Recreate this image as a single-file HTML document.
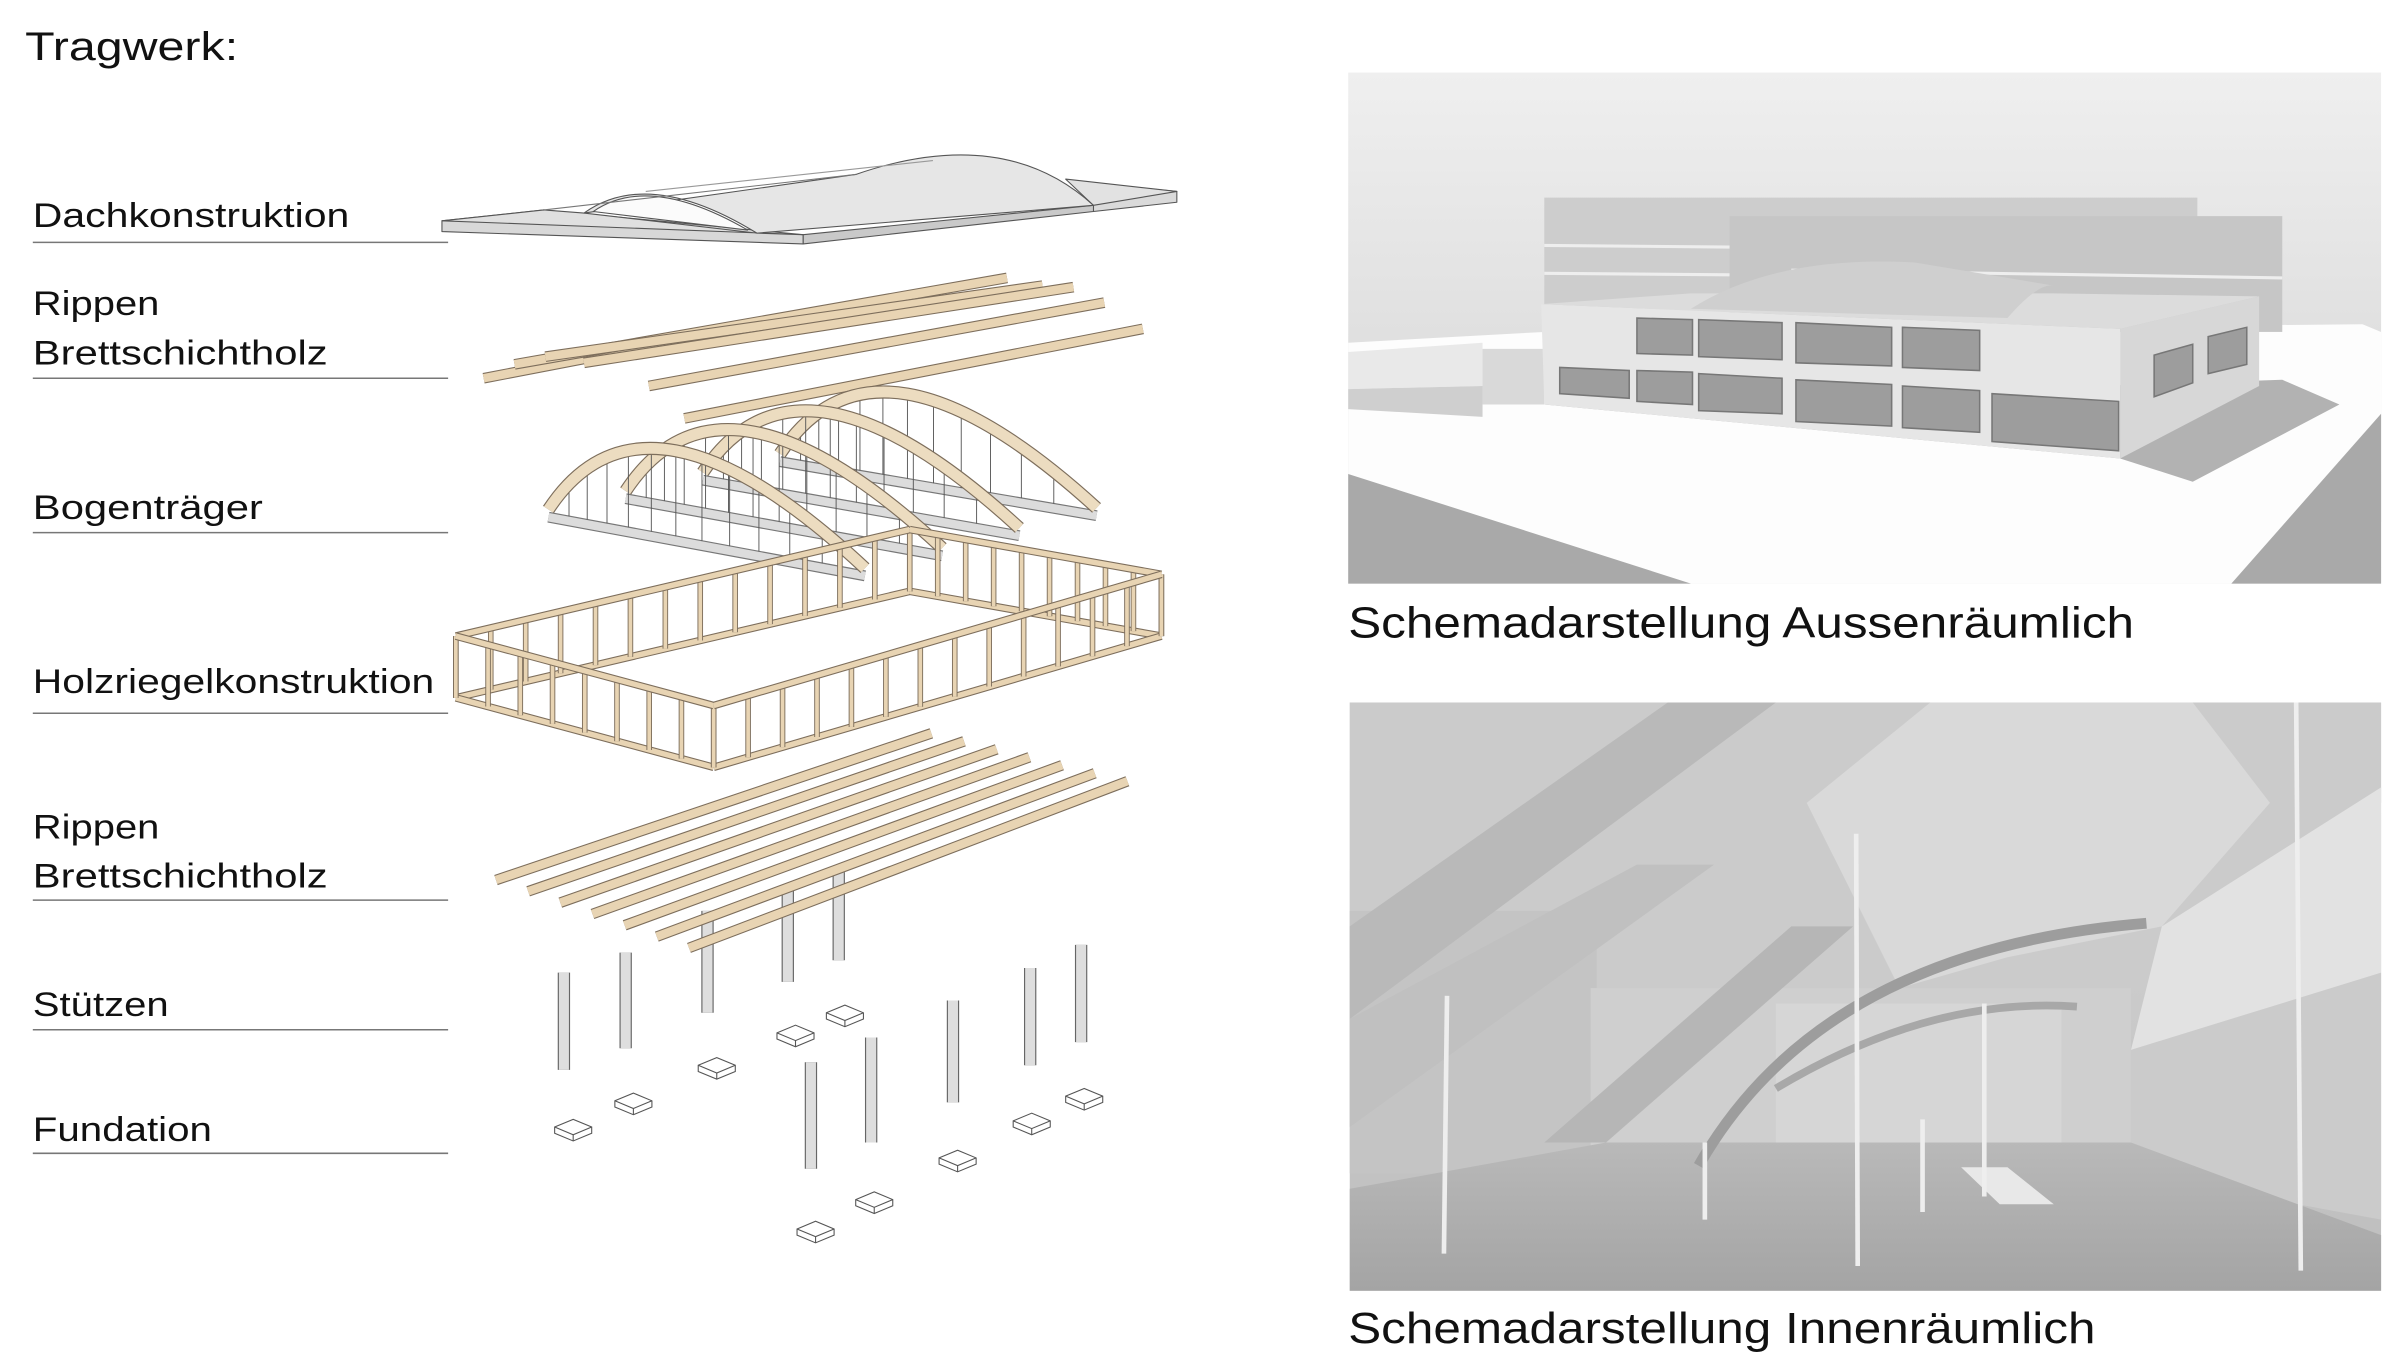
<!DOCTYPE html>
<html><head><meta charset="utf-8"><style>
html,body{margin:0;padding:0;background:#fff;}
svg{display:block}
text{font-family:"Liberation Sans",sans-serif;fill:#111}
</style></head><body>
<svg id="s" width="2400" height="1354" viewBox="0 0 1554 877" xmlns="http://www.w3.org/2000/svg">
<defs>
<linearGradient id="sky" x1="0" y1="0" x2="0" y2="1">
<stop offset="0" stop-color="#efefef"/><stop offset="1" stop-color="#d2d2d2"/></linearGradient>
<linearGradient id="ceil" x1="0" y1="0" x2="0" y2="1">
<stop offset="0" stop-color="#d8d8d8"/><stop offset="1" stop-color="#bdbdbd"/></linearGradient>
<linearGradient id="floor" x1="0" y1="0" x2="0" y2="1">
<stop offset="0" stop-color="#b9b9b9"/><stop offset="1" stop-color="#a4a4a4"/></linearGradient>
</defs>
<rect width="1554" height="877" fill="#fff"/>

<text x="16" y="39" font-size="26" textLength="138" lengthAdjust="spacingAndGlyphs">Tragwerk:</text>
<g font-size="22" >
<text x="21" y="147" textLength="205" lengthAdjust="spacingAndGlyphs">Dachkonstruktion</text>
<text x="21" y="204" textLength="82" lengthAdjust="spacingAndGlyphs">Rippen</text>
<text x="21" y="236" textLength="191" lengthAdjust="spacingAndGlyphs">Brettschichtholz</text>
<text x="21" y="336" textLength="149" lengthAdjust="spacingAndGlyphs">Bogenträger</text>
<text x="21" y="449" textLength="260" lengthAdjust="spacingAndGlyphs">Holzriegelkonstruktion</text>
<text x="21" y="543" textLength="82" lengthAdjust="spacingAndGlyphs">Rippen</text>
<text x="21" y="575" textLength="191" lengthAdjust="spacingAndGlyphs">Brettschichtholz</text>
<text x="21" y="658" textLength="88" lengthAdjust="spacingAndGlyphs">Stützen</text>
<text x="21" y="739" textLength="116" lengthAdjust="spacingAndGlyphs">Fundation</text>
</g>
<g stroke="#777" stroke-width="1">
<line x1="21" y1="157" x2="290" y2="157"/>
<line x1="21" y1="245" x2="290" y2="245"/>
<line x1="21" y1="345" x2="290" y2="345"/>
<line x1="21" y1="462" x2="290" y2="462"/>
<line x1="21" y1="583" x2="290" y2="583"/>
<line x1="21" y1="667" x2="290" y2="667"/>
<line x1="21" y1="747" x2="290" y2="747"/>
</g>

<!-- Roof -->
<g stroke="#555" stroke-width="0.7" stroke-linejoin="round">
<polygon points="286,143 352,136 520,152 520,158 286,150" fill="#d8d8d8"/>
<polygon points="286,143 352,136 378,138 490,151 520,152" fill="#e0e0e0"/>
<polygon points="700,118 762,124 762,131 708,137 708,133" fill="#dadada"/>
<polygon points="690,116 762,124 708,133" fill="#e2e2e2"/>
<polygon points="520,152 520,158 708,137 708,133" fill="#c9c9c9"/>
<path d="M378,138 Q420,108 490,151 L708,133 Q650,80 554,113 Z" fill="#e6e6e6"/>
<path d="M384,137 Q420,112 484,149 Z" fill="#fbfbfb"/>
<line x1="418" y1="124" x2="604" y2="104" stroke="#999"/>
<line x1="352" y1="136" x2="554" y2="113" stroke="#777"/>
</g>

<g id="g"></g>

<!-- Exterior render -->
<g>
<rect x="873" y="47" width="669" height="331" fill="url(#sky)"/>
<polygon points="873,222 1000,215 1530,210 1542,215 1542,378 873,378" fill="#fdfdfd"/>
<polygon points="873,307 1095,378 873,378" fill="#a9a9a9"/>
<polygon points="1542,268 1542,378 1445,378" fill="#a9a9a9"/>
<polygon points="873,228 960,222 960,250 873,252" fill="#e9e9e9"/>
<polygon points="873,252 960,250 960,270 873,265" fill="#cfcfcf"/>
<polygon points="960,226 1000,226 1000,262 960,262" fill="#d9d9d9"/>
<rect x="1000" y="128" width="423" height="72" fill="#cdcdcd"/>
<rect x="1120" y="140" width="358" height="75" fill="#c6c6c6"/>
<line x1="1000" y1="159" x2="1120" y2="160" stroke="#eee" stroke-width="2"/>
<line x1="1000" y1="177" x2="1120" y2="178" stroke="#eee" stroke-width="2"/>
<line x1="1160" y1="175" x2="1478" y2="180" stroke="#eee" stroke-width="2"/>
<polygon points="1000,262 1373,297 1420,312 1515,262 1478,246" fill="#b2b2b2"/>
<polygon points="998,197 1373,213 1373,297 1000,262" fill="#e6e6e6"/>
<polygon points="1373,213 1463,192 1463,250 1373,297" fill="#d7d7d7"/>
<polygon points="998,197 1095,190 1330,190 1463,192 1373,213" fill="#dcdcdc"/>
<path d="M1095,200 Q1150,165 1240,170 L1330,185 Q1320,183 1300,206 Z" fill="#cfcfcf"/>
<g fill="#9d9d9d" stroke="#777" stroke-width="1">
<polygon points="1060,206 1096,207 1096,230 1060,229"/>
<polygon points="1100,207 1154,209 1154,233 1100,231"/>
<polygon points="1163,209 1225,212 1225,237 1163,235"/>
<polygon points="1232,212 1282,214 1282,240 1232,238"/>
<polygon points="1010,238 1055,240 1055,258 1010,255"/>
<polygon points="1060,240 1096,241 1096,262 1060,260"/>
<polygon points="1100,242 1154,245 1154,268 1100,266"/>
<polygon points="1163,246 1225,249 1225,276 1163,273"/>
<polygon points="1232,250 1282,253 1282,280 1232,277"/>
<polygon points="1290,255 1372,260 1372,292 1290,286"/>
<polygon points="1395,230 1420,223 1420,248 1395,257"/>
<polygon points="1430,218 1455,212 1455,236 1430,242"/>
</g>
</g>
<text x="873" y="413" font-size="28" textLength="509" lengthAdjust="spacingAndGlyphs">Schemadarstellung Aussenräumlich</text>

<!-- Interior render -->
<g>
<rect x="874" y="455" width="668" height="381" fill="url(#ceil)"/>
<polygon points="874,455 1542,455 1542,520 1400,640 1150,640 1000,640 874,620" fill="#cbcbcb"/>
<polygon points="1170,520 1250,455 1420,455 1470,520 1400,600 1300,620 1230,640" fill="#d9d9d9"/>
<rect x="874" y="590" width="160" height="170" fill="#c4c4c4"/>
<rect x="1030" y="640" width="350" height="110" fill="#cfcfcf"/>
<rect x="1150" y="650" width="185" height="95" fill="#d6d6d6"/>
<polygon points="1380,680 1542,630 1542,790 1380,760" fill="#cbcbcb"/>
<polygon points="1400,600 1542,510 1542,630 1380,680" fill="#e2e2e2"/>
<polygon points="874,770 1040,740 1380,740 1542,800 1542,836 874,836" fill="url(#floor)"/>
<polygon points="1270,756 1300,756 1330,780 1295,780" fill="#e8e8e8"/>
<polygon points="874,600 1080,455 1150,455 874,660" fill="#b9b9b9"/>
<polygon points="874,660 1060,560 1110,560 874,730" fill="#c0c0c0"/>
<polygon points="1000,740 1160,600 1200,600 1040,740" fill="#b6b6b6"/>
<path d="M1100,755 Q1180,615 1390,598" stroke="#9d9d9d" stroke-width="7" fill="none"/>
<path d="M1150,705 Q1250,645 1345,652" stroke="#a8a8a8" stroke-width="5" fill="none"/>
<g stroke="#eeeeee" stroke-width="3">
<line x1="937" y1="645" x2="935" y2="812"/>
<line x1="1202" y1="540" x2="1203" y2="820"/>
<line x1="1487" y1="455" x2="1490" y2="823"/>
<line x1="1245" y1="725" x2="1245" y2="785"/>
<line x1="1285" y1="650" x2="1285" y2="775"/>
<line x1="1104" y1="740" x2="1104" y2="790"/>
</g>
</g>
<text x="873" y="870" font-size="28" textLength="484" lengthAdjust="spacingAndGlyphs">Schemadarstellung Innenräumlich</text>
</svg>
<script>
(function(){
var g=document.getElementById('g'),out='';
function L(x1,y1,x2,y2,c,w){out+='<line x1="'+x1+'" y1="'+y1+'" x2="'+x2+'" y2="'+y2+'" stroke="'+c+'" stroke-width="'+w+'" stroke-linecap="butt"/>';}
function beam(x1,y1,x2,y2,w,c){L(x1,y1,x2,y2,'#7d6e5c',w+1.4);L(x1,y1,x2,y2,c||'#e8d4b3',w);}
var tr=[[313,245,500,209],[333,236,652,180],[353,231,675,185],[378,235,695,186],[420,250,715,196],[443,271,740,213]];
tr.forEach(function(b){beam(b[0],b[1],b[2],b[3],5.5);});
for(var i=3;i>=0;i--){
 var Lx=355+50*i,Ly=330-12*i,Rx=560+50*i,Ry=368-13*i;
 var cx=(Lx+Rx)/2-40,cy=Math.min(Ly,Ry)-95;
 L(Lx,Ly+5,Rx,Ry+5,'#777',7);L(Lx,Ly+5,Rx,Ry+5,'#dcdcdc',5.5);
 for(var t=0.1;t<0.95;t+=0.08){
  var px=(1-t)*(1-t)*Lx+2*t*(1-t)*cx+t*t*Rx,py=(1-t)*(1-t)*Ly+2*t*(1-t)*cy+t*t*Ry;
  var ty=Ly+(Ry-Ly)*(px-Lx)/(Rx-Lx);
  L(px,py,px,ty+2,'#555',0.6);
 }
 var d='M'+Lx+','+Ly+' Q'+cx+','+cy+' '+Rx+','+Ry;
 out+='<path d="'+d+'" stroke="#7d6e5c" stroke-width="8.5" fill="none"/><path d="'+d+'" stroke="#ecdcc0" stroke-width="7" fill="none"/>';
}
var A=[295,412],B=[462,457],C=[752,372],D=[589,343],h=40;
function studs(P,Q,n){for(var k=0;k<=n;k++){var x=P[0]+(Q[0]-P[0])*k/n,y=P[1]+(Q[1]-P[1])*k/n;L(x,y,x,y+h,'#7d6e5c',3.6);L(x,y,x,y+h,'#e8d4b3',2.4);}}
function rail(P,Q,dy){beam(P[0],P[1]+dy,Q[0],Q[1]+dy,3.5);}
rail(A,D,h);rail(D,C,h);studs(A,D,13);studs(D,C,9);rail(A,D,0);rail(D,C,0);
rail(A,B,h);rail(B,C,h);studs(A,B,8);studs(B,C,13);rail(A,B,0);rail(B,C,0);
var f=[[371,730],[410,713],[464,690],[515,669],[547,656],[528,796],[566,777],[620,750],[668,726],[702,710]];
f.forEach(function(p){var x=p[0],y=p[1];out+='<polygon points="'+(x-12)+','+y+' '+x+','+(y-5)+' '+(x+12)+','+y+' '+(x+12)+','+(y+4)+' '+x+','+(y+9)+' '+(x-12)+','+(y+4)+'" fill="#fff" stroke="#555" stroke-width="0.7"/><polyline points="'+(x-12)+','+y+' '+x+','+(y+5)+' '+(x+12)+','+y+'" fill="none" stroke="#555" stroke-width="0.7"/><line x1="'+x+'" y1="'+(y+5)+'" x2="'+x+'" y2="'+(y+9)+'" stroke="#555" stroke-width="0.7"/>';});
var c=[[365,630,693],[405,617,679],[458,590,656],[510,575,636],[543,565,622],[525,688,757],[564,672,740],[617,648,714],[667,627,690],[700,612,675]];
c.forEach(function(p){L(p[0],p[1],p[0],p[2],'#666',8);L(p[0],p[1],p[0],p[2],'#dedede',6.5);});
for(var j=0;j<7;j++){var t=j/6;beam(321+125*t,570+44*t,603+127*t,475+31*t,5.5);}
g.innerHTML=out;
})();
</script>
</body></html>
